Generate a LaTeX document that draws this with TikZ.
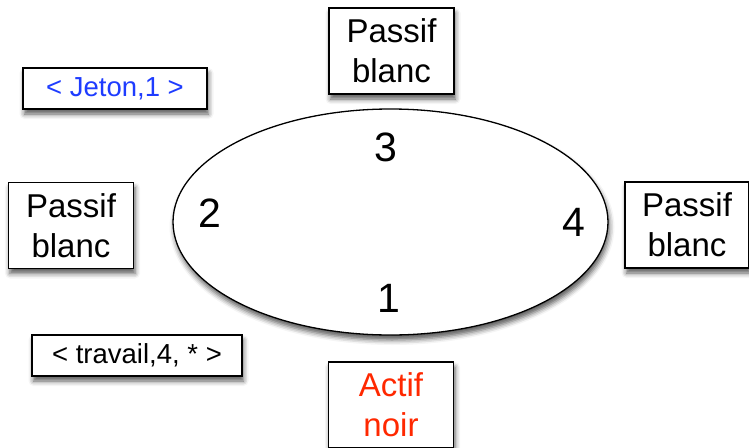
\documentclass[tikz,border=0pt]{standalone}
\usepackage{fontspec}
\setmainfont{Liberation Sans}
\usetikzlibrary{shapes.geometric,shadows.blur}
\definecolor{tokblue}{RGB}{30,60,255}
\definecolor{actred}{RGB}{255,40,0}
\tikzset{
  shade/.style={blur shadow={shadow xshift=1.5pt, shadow yshift=-5pt, shadow blur radius=5pt, shadow opacity=65}},
  site/.style={draw=black, line width=1.3pt, fill=white, shade, minimum width=125pt, minimum height=86pt,
    inner sep=0pt, align=center, font=\fontsize{33}{40}\selectfont},
  msg/.style={draw=black, line width=1.3pt, fill=white, shade, minimum height=41pt, inner sep=0pt,
    font=\fontsize{27.5}{32}\selectfont},
  num/.style={inner sep=0pt, font=\fontsize{41}{48}\selectfont},
}
\begin{document}
\begin{tikzpicture}[x=1pt,y=-1pt]
\useasboundingbox (0,0) rectangle (749,447);
\node[ellipse, draw=black, line width=1.3pt, fill=white, shade, minimum width=435pt, minimum height=226pt, inner sep=0pt] (ring) at (390.5,222) {};
\node[num] (n3) at (386,147) {3};
\node[num] (n4) at (574,222) {4};
\node[num] (n1) at (389,298) {1};
\node[num] (n2) at (210,213) {2};
\node[site] (top) at (391.5,51) {Passif\\blanc};
\node[site, minimum width=124pt] (right) at (687,225) {Passif\\blanc};
\node[site, text=actred] (bottom) at (391,405) {Actif\\noir};
\node[site] (left) at (71,225.5) {Passif\\blanc};
\node[msg, minimum width=184pt, text=tokblue] (jeton) at (115,88.5) {< Jeton,1 >};
\node[msg, minimum width=210pt] (travail) at (137,355.5) {< travail,4, * >};
\end{tikzpicture}
\end{document}
